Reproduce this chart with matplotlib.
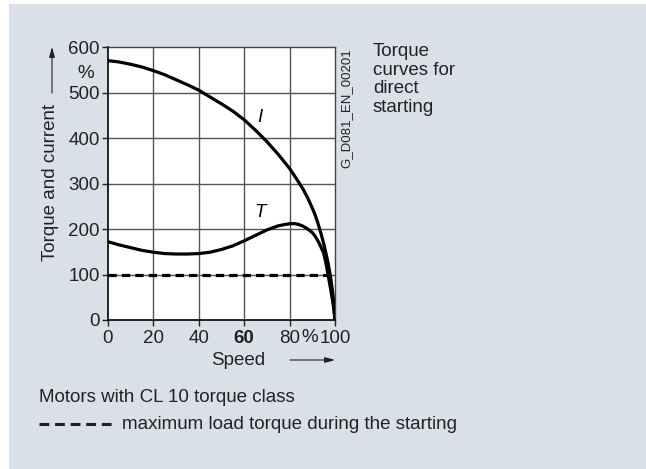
import numpy as np
import matplotlib
matplotlib.use("Agg")
from matplotlib import pyplot as plt
from matplotlib.patches import Rectangle, FancyArrowPatch

plt.rcParams['font.family'] = ['Liberation Sans', 'DejaVu Sans']

# speed in % of synchronous speed
speed_I = [0, 5, 10, 15, 20, 25, 30, 35, 40, 45, 50, 55, 60, 65, 70, 75, 80, 82, 84, 86, 88,
           90, 91, 92, 93, 94, 95, 96, 97, 98, 99, 99.5, 100]
current = [570, 567, 562, 556, 548, 539, 528, 517, 505, 490, 475, 459, 440, 417, 392, 364, 333, 318, 303, 287, 268,
           246, 234, 220, 204, 187, 168, 147, 124, 96, 60, 36, 0]

speed_T = [0, 5, 10, 15, 20, 25, 30, 35, 40, 45, 50, 55, 60, 65, 70, 75, 78, 80, 82, 84, 86, 88,
           90, 91, 92, 93, 94, 95, 96, 97, 98, 99, 99.5, 100]
torque = [172, 165, 159, 153, 149, 146, 145, 145, 146, 149, 155, 163, 174, 186, 198, 207, 210, 211.5, 212, 210, 206, 200,
          192, 186, 178, 169, 158, 147, 125, 98, 70, 40, 22, 0]

load_speed = [0, 100]
load_torque = [100, 100]

xticks = [0, 20, 40, 60, 80, 100]
yticks = [0, 100, 200, 300, 400, 500, 600]

W, H = 646, 469
FS = 13.5
TXT = '#222222'
fig = plt.figure(figsize=(W / 100, H / 100), dpi=100, facecolor='white')
bg = '#d9e0e7'
fig.patches.append(Rectangle((9 / W, 0), 1 - 9 / W, 1 - 4 / H, transform=fig.transFigure,
                             facecolor=bg, edgecolor='none', zorder=-5))

ax = fig.add_axes([108 / W, 1 - 320 / H, (335 - 108) / W, (320 - 47) / H])
ax.set_facecolor('white')
ax.set_xlim(0, 100)
ax.set_ylim(0, 600)

for x in xticks[1:-1]:
    ax.axvline(x, color='#555555', lw=1.0, zorder=1)
for y in yticks[1:-1]:
    ax.axhline(y, color='#555555', lw=1.0, zorder=1)

ax.plot(speed_I, current, color='black', lw=2.3, zorder=3)
ax.plot(speed_T, torque, color='black', lw=2.3, zorder=3)
ax.plot(load_speed, load_torque, color='black', lw=2.3, dashes=(2.6, 1.6), zorder=4)

ax.text(67, 446, 'I', style='italic', fontsize=FS, ha='center', va='center')
ax.text(67, 236, 'T', style='italic', fontsize=FS, ha='center', va='center')

for s in ['left', 'bottom']:
    ax.spines[s].set_color('black')
    ax.spines[s].set_linewidth(1.2)
for s in ['top', 'right']:
    ax.spines[s].set_color('#444444')
    ax.spines[s].set_linewidth(1.0)

ax.set_xticks(xticks)
ax.set_yticks(yticks)
ax.set_xticklabels(['0', '20', '40', '60', '80', '100'])
ax.get_xticklabels()[3].set_fontweight('bold')
ax.tick_params(axis='both', labelsize=FS, colors=TXT, length=4, width=1.0)
ax.tick_params(axis='x', pad=3)
ax.tick_params(axis='y', pad=2)

# percent sign after 80
fig.text(310 / W, 1 - 337 / H, '%', fontsize=FS, ha='center', va='center', color=TXT)

arrow_style = '-|>,head_length=0.6,head_width=0.17'

# axis labels
fig.text(238 / W, 1 - 360 / H, 'Speed', fontsize=FS, ha='center', va='center', color=TXT)
fig.patches.append(FancyArrowPatch((290 / W, 1 - 360 / H), (335 / W, 1 - 360 / H),
                                   transform=fig.transFigure, arrowstyle=arrow_style,
                                   mutation_scale=10, shrinkA=0, shrinkB=0,
                                   color=TXT, lw=0.8))
fig.text(51 / W, 1 - 182 / H, 'Torque and current', fontsize=FS, rotation=90,
         ha='center', va='center', color=TXT)
fig.patches.append(FancyArrowPatch((52 / W, 1 - 93 / H), (52 / W, 1 - 47 / H),
                                   transform=fig.transFigure, arrowstyle=arrow_style,
                                   mutation_scale=10, shrinkA=0, shrinkB=0,
                                   color=TXT, lw=0.8))
fig.text(86 / W, 1 - 73 / H, '%', fontsize=FS, ha='center', va='center', color=TXT)

fig.text(346 / W, 1 - 48 / H, 'G_D081_EN_00201', fontsize=9.5, rotation=90,
         ha='center', va='top', color=TXT)
fig.text(373 / W, 1 - 43 / H, 'Torque\ncurves for\ndirect\nstarting', fontsize=FS,
         ha='left', va='top', linespacing=1.13, color=TXT)

fig.text(39 / W, 1 - 397 / H, 'Motors with CL 10 torque class', fontsize=FS,
         ha='left', va='center', color=TXT)
fig.lines.append(plt.Line2D([39 / W, 113 / W], [1 - 424 / H, 1 - 424 / H], transform=fig.transFigure,
                            color=TXT, lw=2.2, dashes=(3.2, 1.9)))
fig.text(122 / W, 1 - 424 / H, 'maximum load torque during the starting', fontsize=FS,
         ha='left', va='center', color=TXT)

fig.savefig('out.png', dpi=100, facecolor=fig.get_facecolor())
